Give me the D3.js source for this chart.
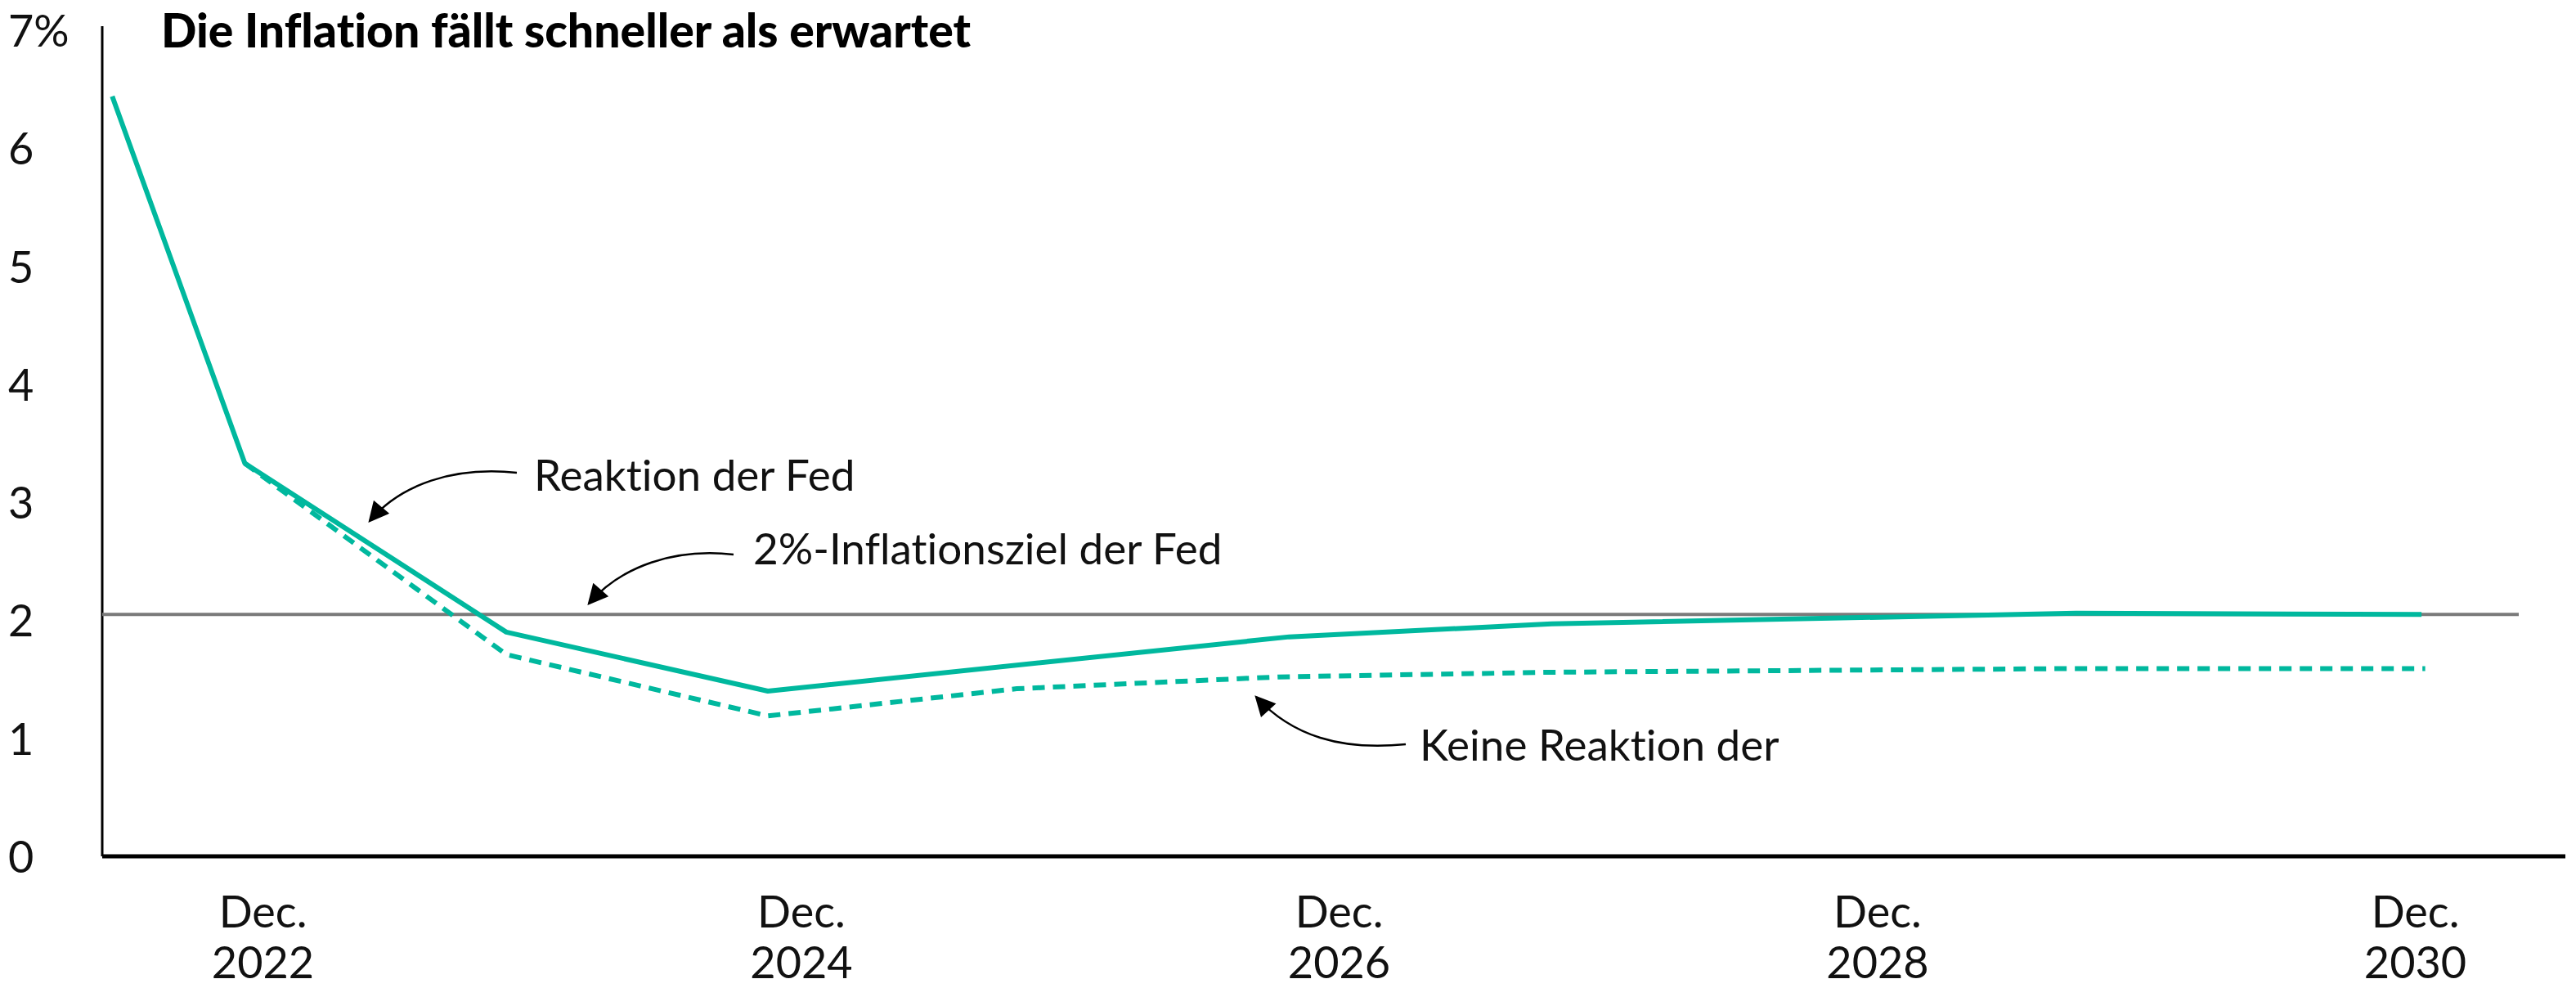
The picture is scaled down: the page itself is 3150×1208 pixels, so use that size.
<!DOCTYPE html>
<html><head><meta charset="utf-8">
<script src="https://cdn.jsdelivr.net/npm/d3@7"></script>
<style>body{margin:0;background:#fff}svg{display:block}text{font-variant-ligatures:none;font-feature-settings:"liga" 0}</style>
</head><body>
<svg id="c" width="3150" height="1208"></svg>
<script>
// ---- data ----
const titleText = "Die Inflation fällt schneller als erwartet";
const solidDates  = ["2022-05-11","2022-11-07","2023-10-28","2024-10-17","2026-09-25","2027-09-16","2029-08-28","2030-12-10"];
const solidValues = [6.44, 3.33, 1.90, 1.40, 1.86, 1.97, 2.06, 2.05];
const dashedDates  = ["2022-11-07","2023-10-28","2024-10-17","2025-09-20","2026-09-10","2027-09-16","2029-08-01","2030-12-15"];
const dashedValues = [3.33, 1.71, 1.19, 1.42, 1.52, 1.56, 1.59, 1.59];
const targetValue = 2.05;
const yTicks = [0,1,2,3,4,5,6,7];
const yTickLabels = ["0","1","2","3","4","5","6","7%"];
const xTickDates = ["2022-12-01","2024-12-01","2026-12-01","2028-12-01","2030-12-01"];
const xTickLabels = [["Dec.","2022"],["Dec.","2024"],["Dec.","2026"],["Dec.","2028"],["Dec.","2030"]];
const annotations = [
  {text:"Reaktion der Fed", tx:653, ty:600, from:[632,578], c1:[555,570], c2:[490,592], to:[452,637]},
  {text:"2%-Inflationsziel der Fed", tx:921, ty:690, from:[897,678], c1:[825,670], c2:[760,692], to:[720,738]},
  {text:"Keine Reaktion der", tx:1736, ty:930, from:[1719,910], c1:[1640,918], c2:[1580,900], to:[1536,852]}
];

// ---- chart ----
const parse = d3.timeParse("%Y-%m-%d");
const svg = d3.select("#c");
const font = "Lato, 'Noto Sans', sans-serif";
const teal = "#00b89e";

const x = d3.scaleTime().domain([parse("2022-12-01"), parse("2030-12-01")]).range([321, 2953]);
const y = d3.scaleLinear().domain([0,7]).range([1047, 37]);

svg.append("defs").append("marker")
  .attr("id","ah").attr("viewBox","0 0 10 10").attr("refX",9).attr("refY",5)
  .attr("markerWidth",11).attr("markerHeight",10).attr("markerUnits","strokeWidth").attr("orient","auto")
  .append("path").attr("d","M0,0 L10,5 L0,10 z").attr("fill","#000");

// title
svg.append("text").attr("x",197).attr("y",58)
  .attr("font-family",font).attr("font-weight",900).attr("font-size",57)
  .attr("textLength",990).attr("lengthAdjust","spacingAndGlyphs")
  .text(titleText);

// y axis
const yAxis = d3.axisLeft(y).tickValues(yTicks).tickSize(0).tickFormat((d,i)=>yTickLabels[i]);
const gy = svg.append("g").attr("transform","translate(125,0)").call(yAxis);
gy.select(".domain").remove();
gy.selectAll("text").attr("x",-115).attr("dy","0.36em").attr("text-anchor","start")
  .attr("font-family",font).attr("font-size",54).attr("fill","#111");
svg.append("line").attr("x1",125).attr("x2",125).attr("y1",y(0)).attr("y2",y(7)-5)
  .attr("stroke","#000").attr("stroke-width",3);

// target line
svg.append("line").attr("x1",125).attr("x2",3080).attr("y1",y(targetValue)).attr("y2",y(targetValue))
  .attr("stroke","#7a7a7a").attr("stroke-width",4);

// x axis
const xAxis = d3.axisBottom(x).tickValues(xTickDates.map(parse)).tickSize(0).tickFormat(()=> "");
const gx = svg.append("g").attr("transform",`translate(0,${y(0)})`).call(xAxis);
gx.select(".domain").remove();
gx.selectAll(".tick text").each(function(d,i){
  const t = d3.select(this).attr("y",0).attr("dy",null).attr("font-family",font).attr("font-size",54).attr("fill","#111");
  t.append("tspan").attr("x",0).attr("y",87).text(xTickLabels[i][0]);
  t.append("tspan").attr("x",0).attr("y",149).text(xTickLabels[i][1]);
});
svg.append("line").attr("x1",125).attr("x2",3137).attr("y1",y(0)).attr("y2",y(0))
  .attr("stroke","#000").attr("stroke-width",5);

// lines
const line = d3.line().x(d=>x(d[0])).y(d=>y(d[1]));
svg.append("path").datum(dashedDates.map((d,i)=>[parse(d),dashedValues[i]]))
  .attr("d",line).attr("fill","none").attr("stroke",teal).attr("stroke-width",6)
  .attr("stroke-dasharray","15,10");
svg.append("path").datum(solidDates.map((d,i)=>[parse(d),solidValues[i]]))
  .attr("d",line).attr("fill","none").attr("stroke",teal).attr("stroke-width",6)
  .attr("stroke-linejoin","round");

// annotations
annotations.forEach(a=>{
  const p = d3.path();
  p.moveTo(a.from[0],a.from[1]);
  p.bezierCurveTo(a.c1[0],a.c1[1],a.c2[0],a.c2[1],a.to[0],a.to[1]);
  svg.append("path").attr("d",p.toString()).attr("fill","none").attr("stroke","#000")
    .attr("stroke-width",2.5).attr("marker-end","url(#ah)");
  svg.append("text").attr("x",a.tx).attr("y",a.ty).attr("font-family",font).attr("font-size",53)
    .attr("fill","#111").text(a.text);
});
</script>
</body></html>
